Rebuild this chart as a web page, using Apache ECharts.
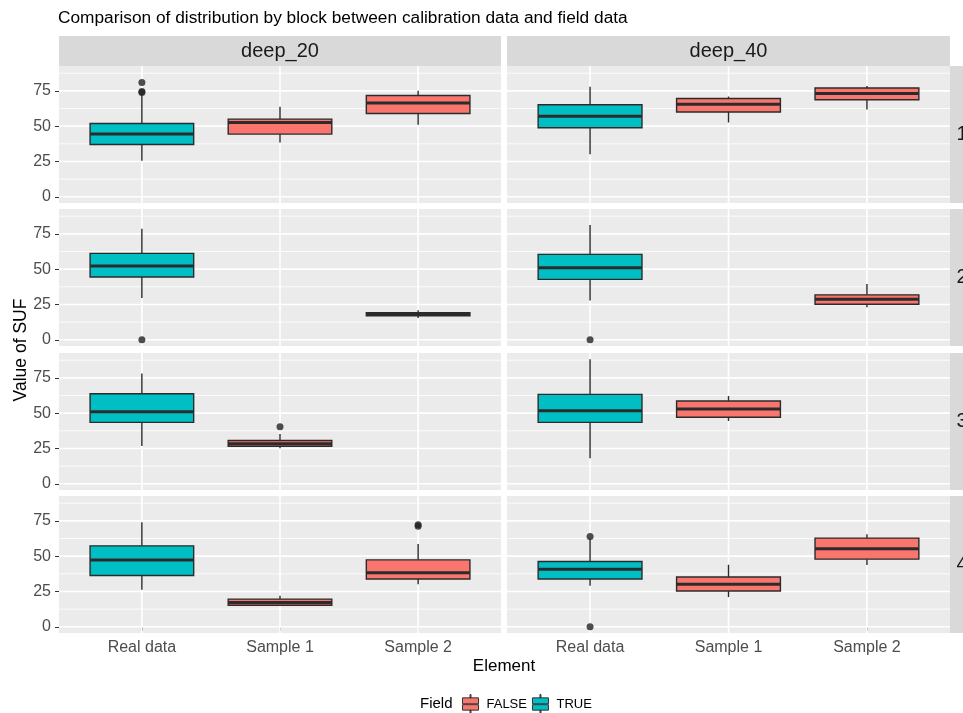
<!DOCTYPE html>
<html><head><meta charset="utf-8">
<script src="https://cdn.jsdelivr.net/npm/echarts@6/dist/echarts.min.js"></script>
<style>html,body{margin:0;padding:0;background:#fff}#c{width:963px;height:713px}</style>
</head><body><div id="c"></div>
<script>
// ---------- data ----------
const categories = ['Real data', 'Sample 1', 'Sample 2'];
const depths = ['deep_20', 'deep_40'];
const blocks = ['1', '2', '3', '4'];
const yTicks = [0, 25, 50, 75];
const yMinorTicks = [12.5, 37.5, 62.5, 87.5];
const fieldNames = ['FALSE', 'TRUE'];

// per category: [lower whisker, Q1, median, Q3, upper whisker]; null = no data
const deep20_b1 = [[25.5, 37.0, 44.4, 51.9, 72.7], [38.5, 44.4, 52.6, 55.0, 63.7], [51.0, 59.0, 66.4, 71.7, 75.0]];
const deep20_b2 = [[29.6, 44.5, 52.2, 61.2, 78.6], null, [15.5, 17.0, 18.0, 19.2, 21.0]];
const deep20_b3 = [[26.8, 43.5, 51.0, 63.7, 78.1], [25.2, 26.6, 28.4, 30.6, 35.3], null];
const deep20_b4 = [[26.2, 36.3, 47.2, 57.3, 74.1], [14.9, 15.3, 17.2, 19.6, 21.9], [30.2, 33.8, 38.2, 47.4, 58.7]];
const deep40_b1 = [[30.2, 48.9, 57.1, 65.2, 77.9], [52.6, 60.0, 65.6, 69.6, 71.0], [61.8, 68.7, 73.2, 77.0, 78.4]];
const deep40_b2 = [[27.8, 42.8, 51.0, 60.5, 81.2], null, [23.1, 25.2, 28.7, 31.8, 39.5]];
const deep40_b3 = [[18.1, 43.5, 51.7, 63.3, 88.2], [44.5, 47.1, 52.9, 58.6, 62.1], null];
const deep40_b4 = [[29.0, 33.8, 40.8, 46.2, 62.5], [21.0, 25.3, 30.2, 35.2, 43.9], [43.7, 47.9, 55.2, 62.8, 65.6]];

// outliers: [category position (1..3), value]
const deep20_b1_out = [[1, 81.0], [1, 74.6], [1, 73.8]];
const deep20_b2_out = [[1, 0]];
const deep20_b3_out = [[2, 40.4]];
const deep20_b4_out = [[3, 72.3], [3, 71.2]];
const deep40_b1_out = [];
const deep40_b2_out = [[1, 0]];
const deep40_b3_out = [];
const deep40_b4_out = [[1, 64.0], [1, 0]];

const panelStats = [
  [deep20_b1, deep40_b1],
  [deep20_b2, deep40_b2],
  [deep20_b3, deep40_b3],
  [deep20_b4, deep40_b4]
];
const panelOutliers = [
  [deep20_b1_out, deep40_b1_out],
  [deep20_b2_out, deep40_b2_out],
  [deep20_b3_out, deep40_b3_out],
  [deep20_b4_out, deep40_b4_out]
];

// ---------- layout / style ----------
const FONT = "'Liberation Sans', Arial, Helvetica, sans-serif";
const Y_MIN = -4.4, Y_MAX = 92.6;
const X_MIN = 0.4, X_MAX = 3.6;
const colLeft = [59, 507];
const colWidth = [442, 443];
const rowTop = [66, 209, 353, 496];
const rowHeight = 137;
const stripTop = 36, stripHeight = 30;
const rightStripX = 950, rightStripW = 30;
const COLOR_TRUE = '#00BFC4', COLOR_FALSE = '#F8766D';
const BOX_HALF = 0.375;
const INK = '#2B2B2B';

function renderGridLines(params, api) {
  const kind = api.value(0), v = api.value(1);
  let p1, p2;
  if (kind === 2) { p1 = api.coord([v, Y_MIN]); p2 = api.coord([v, Y_MAX]); }
  else { p1 = api.coord([X_MIN, v]); p2 = api.coord([X_MAX, v]); }
  return {
    type: 'line',
    shape: { x1: p1[0], y1: p1[1], x2: p2[0], y2: p2[1] },
    style: { stroke: '#FFFFFF', lineWidth: kind === 1 ? 0.8 : 1.6 }
  };
}

function renderBox(params, api) {
  const x = api.value(0);
  const lo = api.value(1), q1 = api.value(2), md = api.value(3), q3 = api.value(4), hi = api.value(5);
  const tl = api.coord([x - BOX_HALF, q3]);
  const br = api.coord([x + BOX_HALF, q1]);
  const top = api.coord([x, hi]);
  const bot = api.coord([x, lo]);
  const mL = api.coord([x - BOX_HALF, md]);
  const mR = api.coord([x + BOX_HALF, md]);
  const color = api.visual('color');
  return {
    type: 'group',
    children: [
      { type: 'line', shape: { x1: top[0], y1: top[1], x2: top[0], y2: tl[1] }, style: { stroke: INK, lineWidth: 1.4 } },
      { type: 'line', shape: { x1: bot[0], y1: br[1], x2: bot[0], y2: bot[1] }, style: { stroke: INK, lineWidth: 1.4 } },
      { type: 'rect', shape: { x: tl[0], y: tl[1], width: br[0] - tl[0], height: br[1] - tl[1] }, style: { fill: color, stroke: INK, lineWidth: 1.4 } },
      { type: 'line', shape: { x1: mL[0], y1: mL[1], x2: mR[0], y2: mR[1] }, style: { stroke: INK, lineWidth: 3 } }
    ]
  };
}

const grids = [], xAxes = [], yAxes = [], series = [], graphics = [];
const gridLineData = [].concat(
  yTicks.map(v => [0, v]),
  yMinorTicks.map(v => [1, v]),
  categories.map((c, i) => [2, i + 1])
);

for (let r = 0; r < blocks.length; r++) {
  for (let c = 0; c < depths.length; c++) {
    const idx = grids.length;
    const isBottom = r === blocks.length - 1;
    const isLeft = c === 0;
    grids.push({
      left: colLeft[c], top: rowTop[r], width: colWidth[c], height: rowHeight,
      show: true, backgroundColor: '#EBEBEB', borderWidth: 0, containLabel: false
    });
    xAxes.push({
      type: 'value', gridIndex: idx, min: X_MIN, max: X_MAX,
      axisLine: { show: false }, splitLine: { show: false },
      axisTick: { show: isBottom, customValues: [1, 2, 3], length: 4, lineStyle: { color: '#333333', width: 1 } },
      axisLabel: {
        show: isBottom, customValues: [1, 2, 3], margin: 7,
        formatter: v => categories[Math.round(v) - 1] || '',
        color: '#4D4D4D', fontSize: 16, fontFamily: FONT
      }
    });
    yAxes.push({
      type: 'value', gridIndex: idx, min: Y_MIN, max: Y_MAX,
      axisLine: { show: false }, splitLine: { show: false },
      axisTick: { show: isLeft, customValues: yTicks, length: 4, lineStyle: { color: '#333333', width: 1 } },
      axisLabel: {
        show: isLeft, customValues: yTicks, margin: 8,
        formatter: v => String(v),
        color: '#4D4D4D', fontSize: 16, fontFamily: FONT
      }
    });
    series.push({
      type: 'custom', name: 'grid', xAxisIndex: idx, yAxisIndex: idx, silent: true, z: 1,
      renderItem: renderGridLines, data: gridLineData
    });
    const stats = panelStats[r][c];
    const trueData = [], falseData = [];
    stats.forEach((s, i) => {
      if (!s) return;
      const row = [i + 1].concat(s);
      if (i === 0) trueData.push(row); else falseData.push(row);
    });
    series.push({
      type: 'custom', name: 'TRUE', xAxisIndex: idx, yAxisIndex: idx, z: 2,
      itemStyle: { color: COLOR_TRUE }, encode: { x: 0, y: [1, 2, 3, 4, 5] },
      renderItem: renderBox, data: trueData
    });
    series.push({
      type: 'custom', name: 'FALSE', xAxisIndex: idx, yAxisIndex: idx, z: 2,
      itemStyle: { color: COLOR_FALSE }, encode: { x: 0, y: [1, 2, 3, 4, 5] },
      renderItem: renderBox, data: falseData
    });
    series.push({
      type: 'scatter', name: 'outlier', xAxisIndex: idx, yAxisIndex: idx, z: 3,
      symbolSize: 7, itemStyle: { color: '#222222' }, data: panelOutliers[r][c]
    });
  }
}

// top strips
depths.forEach((d, c) => {
  graphics.push({ type: 'rect', shape: { x: colLeft[c], y: stripTop, width: colWidth[c], height: stripHeight }, style: { fill: '#D9D9D9' }, silent: true });
  graphics.push({ type: 'text', x: colLeft[c] + colWidth[c] / 2, y: stripTop + stripHeight / 2,
    style: { text: d, fill: '#1A1A1A', font: '20px ' + FONT, align: 'center', verticalAlign: 'middle' }, silent: true });
});
// right strips
blocks.forEach((b, r) => {
  graphics.push({ type: 'rect', shape: { x: rightStripX, y: rowTop[r], width: rightStripW, height: rowHeight }, style: { fill: '#D9D9D9' }, silent: true });
  graphics.push({ type: 'text', x: rightStripX + 12, y: rowTop[r] + rowHeight / 2,
    style: { text: b, fill: '#1A1A1A', font: '20px ' + FONT, align: 'center', verticalAlign: 'middle' }, silent: true });
});
// axis titles
graphics.push({ type: 'text', x: 504, y: 666, style: { text: 'Element', fill: '#000000', font: '17px ' + FONT, align: 'center', verticalAlign: 'middle' }, silent: true });
graphics.push({ type: 'text', x: 21, y: 350, rotation: Math.PI / 2, style: { text: 'Value of SUF', fill: '#000000', font: '17.5px ' + FONT, align: 'center', verticalAlign: 'middle' }, silent: true });
graphics.push({ type: 'text', x: 420, y: 704, style: { text: 'Field', fill: '#000000', font: '15px ' + FONT, align: 'left', verticalAlign: 'middle' }, silent: true });

const legendIcon = 'path://M7.5,0L8.5,0L8.5,3L7.5,3Z M0,3L16,3L16,8.3L0,8.3Z M0,9.1L16,9.1L16,14L0,14Z M7.5,14L8.5,14L8.5,17L7.5,17Z';

const option = {
  backgroundColor: '#FFFFFF',
  animation: false,
  title: {
    text: 'Comparison of distribution by block between calibration data and field data',
    left: 58, top: 10, padding: 0,
    textStyle: { fontSize: 17.3, fontWeight: 'normal', color: '#000000', fontFamily: FONT }
  },
  legend: {
    data: fieldNames.map(n => ({ name: n, icon: legendIcon })),
    left: 462, top: 694, padding: 0, itemWidth: 16, itemHeight: 19, itemGap: 5,
    symbolKeepAspect: false,
    itemStyle: { borderColor: '#333333', borderWidth: 1 },
    textStyle: { fontSize: 13, color: '#000000', fontFamily: FONT, padding: [0, 0, 0, 3] },
    selectedMode: false
  },
  grid: grids,
  xAxis: xAxes,
  yAxis: yAxes,
  series: series,
  graphic: graphics
};

const chart = echarts.init(document.getElementById('c'), null, { renderer: 'canvas' });
chart.setOption(option);
</script>
</body></html>
